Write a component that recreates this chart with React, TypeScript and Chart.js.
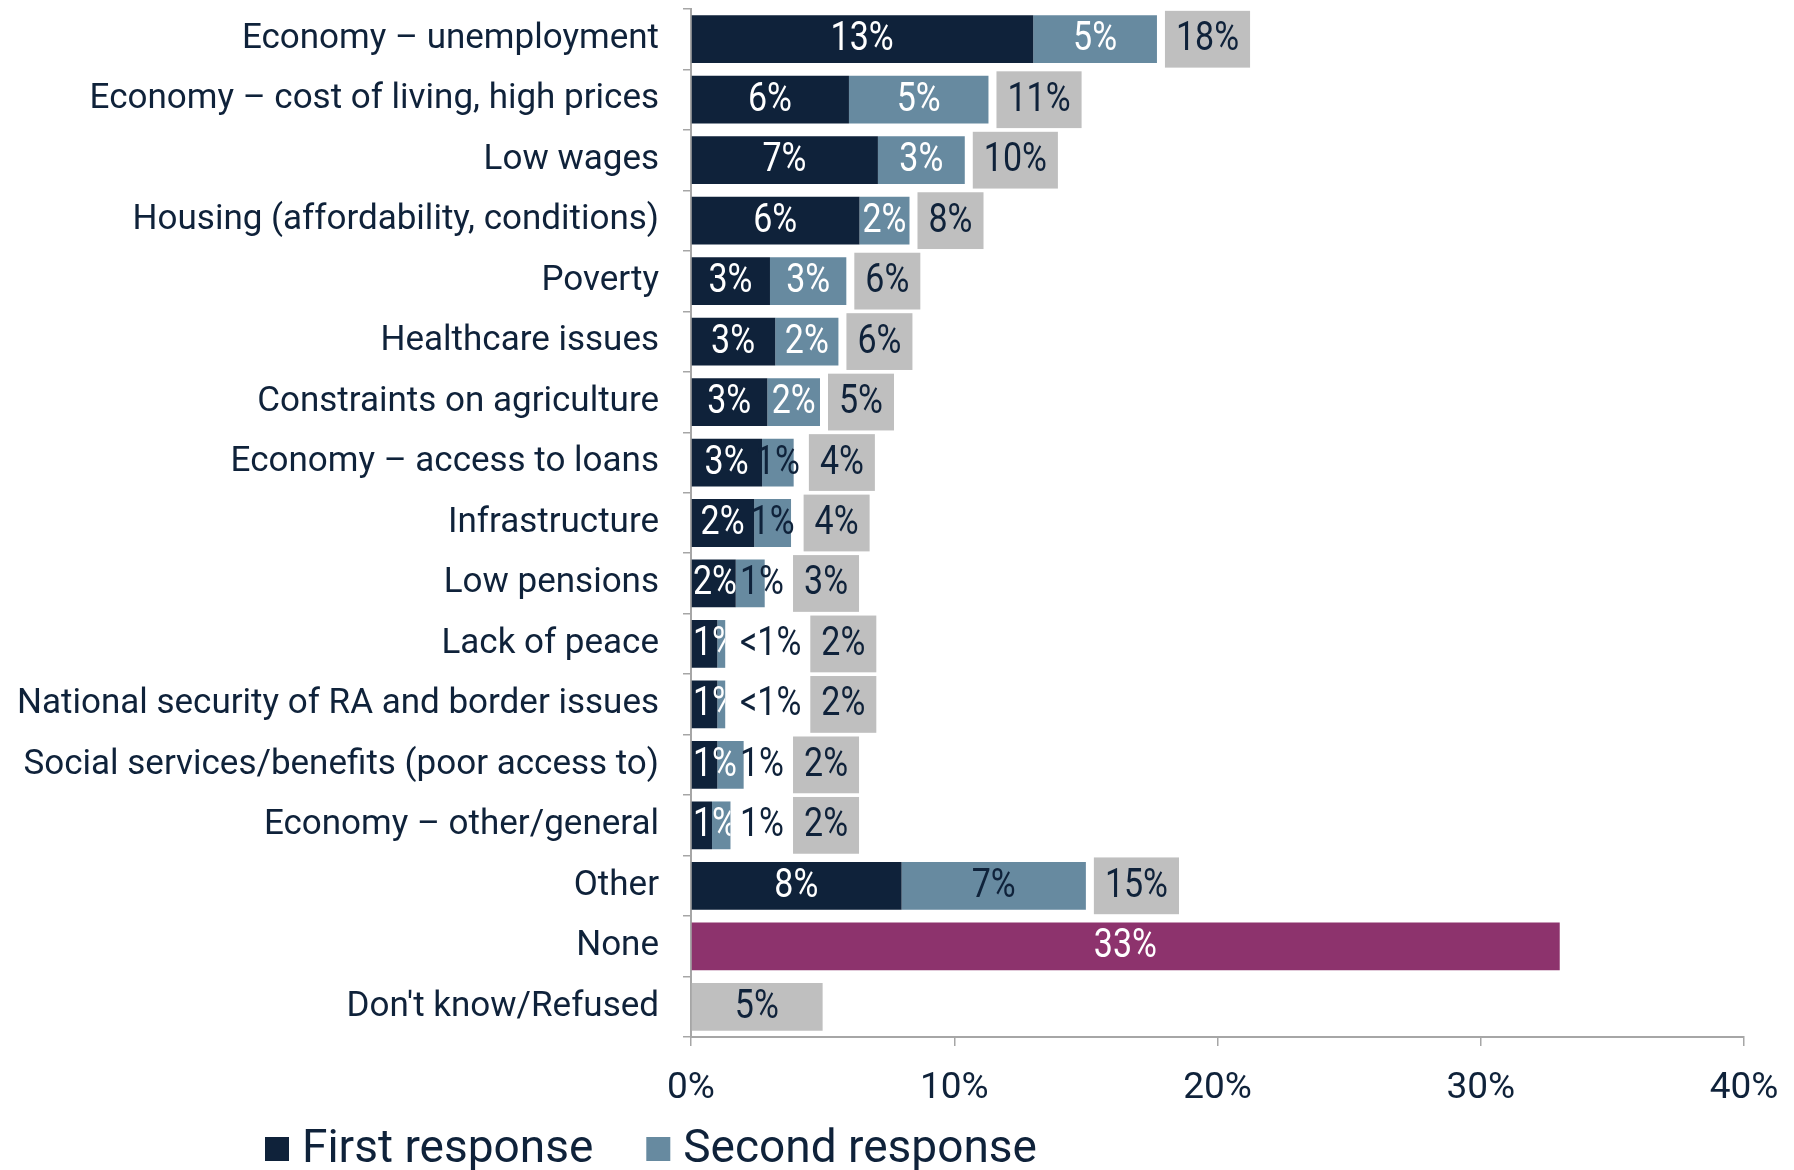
import React, { useEffect, useRef } from "react";
import { Chart, registerables } from "chart.js";

Chart.register(...registerables);

const categories = [
  "Economy – unemployment",
  "Economy – cost of living, high prices",
  "Low wages",
  "Housing (affordability, conditions)",
  "Poverty",
  "Healthcare issues",
  "Constraints on agriculture",
  "Economy – access to loans",
  "Infrastructure",
  "Low pensions",
  "Lack of peace",
  "National security of RA and border issues",
  "Social services/benefits (poor access to)",
  "Economy – other/general",
  "Other",
  "None",
  "Don't know/Refused",
];

const firstResponse = [13.0, 6.0, 7.1, 6.4, 3.0, 3.2, 2.9, 2.7, 2.4, 1.7, 1.0, 1.0, 1.0, 0.8, 8.0, null, null];
const secondResponse = [4.7, 5.3, 3.3, 1.9, 2.9, 2.4, 2.0, 1.2, 1.4, 1.1, 0.3, 0.3, 1.0, 0.7, 7.0, null, null];
const noneValues = [null, null, null, null, null, null, null, null, null, null, null, null, null, null, null, 33.0, null];
const dontKnowValues = [null, null, null, null, null, null, null, null, null, null, null, null, null, null, null, null, 5.0];

const firstLabels = ["13%", "6%", "7%", "6%", "3%", "3%", "3%", "3%", "2%", "2%", "1%", "1%", "1%", "1%", "8%", "", ""];
const secondLabels = ["5%", "5%", "3%", "2%", "3%", "2%", "2%", "1%", "1%", "1%", "<1%", "<1%", "1%", "1%", "7%", "", ""];
const totalLabels = ["18%", "11%", "10%", "8%", "6%", "6%", "5%", "4%", "4%", "3%", "2%", "2%", "2%", "2%", "15%", "", ""];
const noneLabels = ["", "", "", "", "", "", "", "", "", "", "", "", "", "", "", "33%", ""];
const dontKnowLabels = ["", "", "", "", "", "", "", "", "", "", "", "", "", "", "", "", "5%"];

const xTicks = [0, 10, 20, 30, 40];

// style
const NAVY = "#0F223A";
const STEEL = "#678AA0";
const GRAY = "#BFBFBF";
const MAGENTA = "#8D336D";
const AXIS = "#A6A6A6";
const FONT = 'Roboto, "DejaVu Sans", sans-serif';
const LABEL_SX = 0.85; // horizontal squeeze for the narrow numeric labels
// rows (by index) whose second-response label is drawn dark instead of white
const darkSecondLabelRows = [7, 8, 9, 10, 11, 12, 13, 14];

function drawNarrow(ctx: any, text: string, x: number, y: number, align: "left" | "center") {
  const w = ctx.measureText(text).width * LABEL_SX;
  const left = align === "center" ? x - w / 2 : x;
  ctx.save();
  ctx.translate(left, y);
  ctx.scale(LABEL_SX, 1);
  ctx.textAlign = "left";
  ctx.fillText(text, 0, 0);
  ctx.restore();
}

const labelPlugin = {
  id: "barLabels",
  afterDatasetsDraw(chart: any) {
    const ctx = chart.ctx;
    const xs = chart.scales.x;
    const area = chart.chartArea;
    const metaF = chart.getDatasetMeta(0);
    const metaN = chart.getDatasetMeta(2);
    const metaD = chart.getDatasetMeta(3);
    ctx.save();
    ctx.font = `40px ${FONT}`;
    ctx.textBaseline = "middle";
    const x0 = xs.getPixelForValue(0);
    const mw = (t: string) => ctx.measureText(t).width * LABEL_SX;
    for (let i = 0; i < categories.length; i++) {
      const f = firstResponse[i];
      const s = secondResponse[i];
      if (f != null && s != null) {
        const bar = metaF.data[i];
        const y = bar.y + 1;
        const h = bar.height;
        const fEnd = xs.getPixelForValue(f);
        const stackEnd = xs.getPixelForValue(f + s);
        // first label (clipped at the end of the stack)
        const wF = mw(firstLabels[i]);
        const cF = (x0 + fEnd) / 2;
        const leftF = Math.max(cF - wF / 2, area.left + 2);
        ctx.save();
        ctx.beginPath();
        ctx.rect(area.left, y - h, stackEnd - area.left, h * 2);
        ctx.clip();
        ctx.fillStyle = "#FFFFFF";
        drawNarrow(ctx, firstLabels[i], leftF, y, "left");
        ctx.restore();
        // second label
        const wS = mw(secondLabels[i]);
        const cS = (fEnd + stackEnd) / 2;
        const leftS = Math.max(cS - wS / 2, leftF + wF + 3);
        ctx.fillStyle = darkSecondLabelRows.includes(i) ? NAVY : "#FFFFFF";
        drawNarrow(ctx, secondLabels[i], leftS, y, "left");
        const rightS = leftS + wS;
        // total box
        const wT = mw(totalLabels[i]);
        const pad = 11;
        const boxW = wT + pad * 2;
        const boxH = h + 9;
        const boxLeft = Math.max(stackEnd + 8, rightS + 9);
        ctx.fillStyle = GRAY;
        ctx.fillRect(boxLeft, bar.y - boxH / 2, boxW, boxH);
        ctx.fillStyle = NAVY;
        drawNarrow(ctx, totalLabels[i], boxLeft + pad, y, "left");
      }
      const n = noneValues[i];
      if (n != null) {
        const bar = metaN.data[i];
        ctx.fillStyle = "#FFFFFF";
        drawNarrow(ctx, noneLabels[i], (x0 + xs.getPixelForValue(n)) / 2, bar.y + 1, "center");
      }
      const d = dontKnowValues[i];
      if (d != null) {
        const bar = metaD.data[i];
        ctx.fillStyle = NAVY;
        drawNarrow(ctx, dontKnowLabels[i], (x0 + xs.getPixelForValue(d)) / 2, bar.y + 1, "center");
      }
    }
    ctx.restore();
  },
};

const legendPlugin = {
  id: "customLegend",
  afterDraw(chart: any) {
    const ctx = chart.ctx;
    const items = chart.data.datasets.slice(0, 2);
    ctx.save();
    ctx.font = `46px ${FONT}`;
    ctx.textBaseline = "middle";
    ctx.textAlign = "left";
    let x = 265;
    const y = 1149;
    items.forEach((ds: any) => {
      ctx.fillStyle = ds.backgroundColor;
      ctx.fillRect(x, y - 12, 24, 24);
      ctx.fillStyle = NAVY;
      ctx.fillText(ds.label, x + 37, y + 1);
      x += 37 + ctx.measureText(ds.label).width + 53;
    });
    ctx.restore();
  },
};

export default function App() {
  const ref = useRef<HTMLCanvasElement | null>(null);
  useEffect(() => {
    if (!ref.current) return;
    const chart = new Chart(ref.current, {
      type: "bar",
      data: {
        labels: categories,
        datasets: [
          { label: "First response", data: firstResponse, backgroundColor: NAVY, stack: "s" },
          { label: "Second response", data: secondResponse, backgroundColor: STEEL, stack: "s" },
          { label: "None", data: noneValues, backgroundColor: MAGENTA, stack: "s" },
          { label: "Don't know/Refused", data: dontKnowValues, backgroundColor: GRAY, stack: "s" },
        ] as any,
      },
      options: {
        indexAxis: "y",
        responsive: false,
        animation: false,
        devicePixelRatio: 1,
        layout: { padding: { top: 9, right: 50, bottom: 0, left: 0 } },
        datasets: { bar: { categoryPercentage: 1, barPercentage: 0.79, skipNull: true } as any },
        plugins: { legend: { display: false }, tooltip: { enabled: false } },
        scales: {
          x: {
            type: "linear",
            stacked: true,
            min: 0,
            max: 40,
            afterBuildTicks: (scale: any) => {
              scale.ticks = xTicks.map((v) => ({ value: v }));
            },
            afterFit: (scale: any) => {
              scale.height = 133;
              scale.paddingLeft = 0;
              scale.paddingRight = 0;
            },
            ticks: {
              callback: (v: any) => `${v}%`,
              font: { family: FONT, size: 37 },
              color: NAVY,
              padding: 21,
              maxRotation: 0,
            },
            grid: { drawOnChartArea: false, drawTicks: true, tickLength: 9, color: AXIS, lineWidth: 1.5 },
            border: { display: true, color: AXIS, width: 2 },
          },
          y: {
            type: "category",
            stacked: true,
            afterFit: (scale: any) => {
              scale.width = 691;
              scale.paddingTop = 0;
              scale.paddingBottom = 0;
            },
            ticks: {
              font: { family: FONT, size: 35 },
              color: NAVY,
              padding: 24,
              autoSkip: false,
            },
            grid: { drawOnChartArea: false, drawTicks: true, tickLength: 8, color: AXIS, lineWidth: 1.5, offset: true },
            border: { display: true, color: AXIS, width: 2 },
          },
        },
      } as any,
      plugins: [labelPlugin, legendPlugin],
    });
    return () => chart.destroy();
  }, []);
  return (
    <div style={{ position: "absolute", left: 0, top: 0, width: 1794, height: 1170, background: "#fff" }}>
      <canvas ref={ref} width={1794} height={1170} style={{ display: "block" }} />
    </div>
  );
}
